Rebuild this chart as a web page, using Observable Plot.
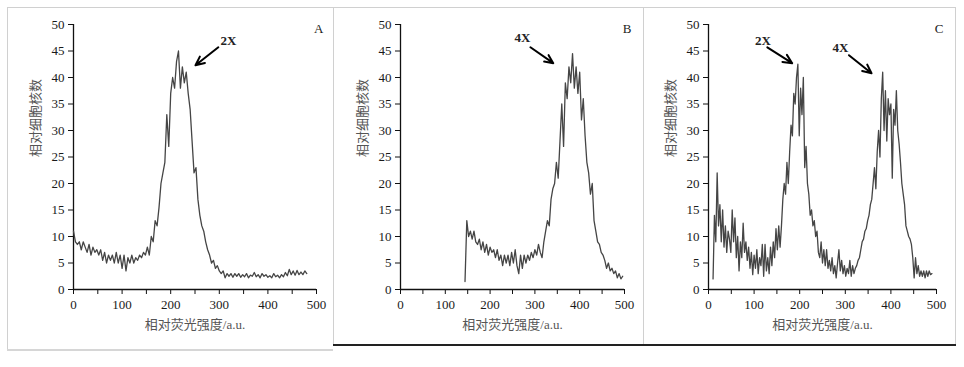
<!DOCTYPE html>
<html><head><meta charset="utf-8">
<script src="https://cdn.jsdelivr.net/npm/d3@7"></script>
<script src="https://cdn.jsdelivr.net/npm/@observablehq/plot@0.6"></script>
<style>
body{margin:0;background:#fff;width:964px;height:367px;position:relative;overflow:hidden}
.panel{position:absolute;top:0}
.ln{position:absolute}
</style></head><body>
<div class="ln" style="left:7px;top:7px;width:949px;height:1px;background:#d0d0d0"></div>
<div class="ln" style="left:7px;top:7px;width:1px;height:343px;background:#d0d0d0"></div>
<div class="ln" style="left:333px;top:7px;width:1px;height:338px;background:#d0d0d0"></div>
<div class="ln" style="left:643px;top:7px;width:1px;height:338px;background:#d0d0d0"></div>
<div class="ln" style="left:955px;top:7px;width:1px;height:338px;background:#d0d0d0"></div>
<div class="ln" style="left:7px;top:349px;width:326px;height:2px;background:#d6d6d6"></div>
<div class="ln" style="left:333px;top:344px;width:623px;height:2px;background:#222"></div>
<div id="pA" class="panel" style="left:0px"></div>
<div id="pB" class="panel" style="left:333px"></div>
<div id="pC" class="panel" style="left:643px"></div>
<script>
// ---- data ----
const xTicks = [0,100,200,300,400,500];
const xMinorTicks = [50,150,250,350,450];
const yTicks = [0,5,10,15,20,25,30,35,40,45,50];
const yLabel = "相对细胞核数";
const xLabel = "相对荧光强度/a.u.";

const xA = [0,4,8,12,16,20,24,28,32,36,40,44,48,52,56,60,64,68,72,76,80,84,88,92,96,100,104,108,112,116,120,124,128,132,136,140,144,148,152,156,160,164,168,172,176,180,184,188,192,196,200,204,208,212,216,220,224,228,232,236,240,244,248,252,256,260,264,268,272,276,280,284,288,292,296,300,304,308,312,316,320,324,328,332,336,340,344,348,352,356,360,364,368,372,376,380,384,388,392,396,400,404,408,412,416,420,424,428,432,436,440,444,448,452,456,460,464,468,472,476,480];
const yA = [11,9,8.5,9,7.5,9,8,7,8.5,6.5,
 8,7,7.5,6.5,7.5,5.5,7,5,6.5,5.5,
 6.5,5,7,5,6.5,4,6.5,3.5,6,5,
 6.5,5,6,5.5,6.5,6,7,6.5,8,6.5,
 10,9,13,12,15.5,20,22,24,33,27,
 37,40,38,43,45,38,42,39,41,37,
 34,28,22,23,17,14,12,11,9,7.5,
 6.5,5,5.5,4,4.5,3.5,3,3.5,2.2,3,
 2.5,3,2.3,3,2.5,3,2.3,2.8,2.4,3,
 2.2,2.7,2.5,3.2,2.4,2.8,2.2,3,2.5,2.8,
 2.3,2.6,2.2,3,2.4,2.7,2.2,2.8,2.4,3.2,
 2.6,3.8,2.8,3.5,2.7,3.6,2.8,3.3,2.8,3.5,
 3];

const xB = [144,148,152,156,160,164,168,172,176,180,184,188,192,196,200,204,208,212,216,220,224,228,232,236,240,244,248,252,256,260,264,268,272,276,280,284,288,292,296,300,304,308,312,316,320,324,328,332,336,340,344,348,352,356,360,364,368,372,376,380,384,388,392,396,400,404,408,412,416,420,424,428,432,436,440,444,448,452,456,460,464,468,472,476,480,484,488,492,496];
const yB = [1.5,13,10,11,9.5,11,9,8.5,9.5,7.5,
 9,7,8.5,6.5,8,7,7.5,6,7.5,5.5,
 6.5,4.5,6.5,5,6.5,4.5,7,5,7.5,4.5,
 3,6.5,4,6.5,5,6.5,5.5,7,6,7.5,
 6.5,8.5,7,6,9,11,13,12,17,19,
 20,24,21,28,35,27,39,36,42,39,
 44.5,38,42,37,41,32,36,29,24,22,
 18,20,13,11,9,8.5,7,6.5,5.5,4,
 5,3.5,4,3,3.5,2.2,3,2,2.5];

const xC = [10,13,16,19,22,25,28,31,34,37,40,43,46,49,52,55,58,61,64,67,70,73,76,79,82,85,88,91,94,97,100,103,106,109,112,115,118,121,124,127,130,133,136,139,142,145,148,151,154,157,160,163,166,169,172,175,178,181,184,187,190,193,196,199,202,205,208,211,214,217,220,223,226,229,232,235,238,241,244,247,250,253,256,259,262,265,268,271,274,277,280,283,286,289,292,295,298,301,304,307,310,313,316,319,322,325,328,331,334,337,340,343,346,349,352,355,358,361,364,367,370,373,376,379,382,385,388,391,394,397,400,403,406,409,412,415,418,421,424,427,430,433,436,439,442,445,448,451,454,457,460,463,466,469,472,475,478,481,484,487,490];
const yC = [2,14,9,22,12,16,9,15,8,12,
 7,11,9.5,7,15,9,13.5,6,10,3.5,
 9,6,12.5,7,9,5.5,8,4,7,2.8,
 6.5,4,7.5,3,6,4.5,8.5,2.5,8.5,3.5,
 6,3,8,4.5,9,6,11.5,7.5,12,8,
 12,17,20,18,24,20,26,31,29,37,
 35,40,42.5,29,38,33,40,23,27,20,
 18,14,15,12,13,10,11,7,6,9,
 5,7.5,4.5,7.5,4,5.5,3.5,6,3,4.5,
 2.2,5,7.5,3.5,5.5,3,4.5,2.5,4,3,
 5.5,2.5,4.5,3,4,4.5,5.5,6,7.5,9,
 9.5,11,11.5,13,14,16,17,20,23,19,
 26,30,25,36,41,30,37.5,28,36,33,
 35,21,34,31,37.5,30,27.5,24,20,18,
 16,12,11,10,9.5,8.5,6,2.2,6,3,
 4.5,2.5,3.5,2.5,3.5,2.2,3.5,2.5,3.5,2.8,
 3];

// annotations (data units)
const noteA = ["2X"], noteAX = [319], noteAY = [47];
const arrA_x1 = [298], arrA_y1 = [45.7], arrA_x2 = [251], arrA_y2 = [42.3];
const noteB = ["4X"], noteBX = [272], noteBY = [47.4];
const arrB_x1 = [290], arrB_y1 = [45.7], arrB_x2 = [341], arrB_y2 = [42.7];
const noteC = ["2X","4X"], noteCX = [119.5,289.5], noteCY = [46.9,45.6];
const arrC_x1 = [129,308], arrC_y1 = [45.7,44.2], arrC_x2 = [183.5,357.5], arrC_y2 = [42.7,40.8];
const panelLetters = ["A","B","C"];

// ---- drawing ----
const serif = "'Liberation Serif','Times New Roman',serif";
const cjk = "'Liberation Serif','Noto Sans CJK SC',serif";

function panel(el, width, mL, mR, xs, ys, letter, notes, nx, ny, ax1, ay1, ax2, ay2) {
  const chart = Plot.plot({
    width, height: 367,
    marginLeft: mL, marginRight: mR, marginTop: 24, marginBottom: 78,
    x: {domain: [0, 500]},
    y: {domain: [0, 50]},
    style: {fontFamily: serif, fontSize: "13px", color: "#1a1a1a", background: "none", overflow: "visible"},
    marks: [
      Plot.axisY({ticks: yTicks, tickSize: 5, tickPadding: 4, label: null, stroke: "#111"}),
      Plot.axisX({ticks: xTicks, tickSize: 5, tickPadding: 5, label: null, stroke: "#111"}),
      Plot.axisX({ticks: xMinorTicks, tickSize: 5, tickFormat: () => "", label: null, stroke: "#111"}),
      Plot.ruleX([0], {stroke: "#111", strokeWidth: 1.3}),
      Plot.ruleY([0], {stroke: "#111", strokeWidth: 1.3}),
      Plot.line(xs, {x: xs, y: ys, stroke: "#454545", strokeWidth: 1.3}),
      Plot.text([yLabel], {text: d => d, frameAnchor: "left", rotate: -90, dx: -38, fill: "#555", fontFamily: cjk, fontSize: 13}),
      Plot.text([xLabel], {text: d => d, frameAnchor: "bottom", dy: 39, fill: "#555", fontFamily: cjk, fontSize: 13}),
      Plot.text([letter], {text: d => d, frameAnchor: "top-right", dx: 7, dy: -1, fill: "#222", fontSize: 13}),
      Plot.text(notes, {x: nx, y: ny, text: notes, fontWeight: "bold", fontSize: 13, fill: "#222"}),
      Plot.arrow(ax1, {x1: ax1, y1: ay1, x2: ax2, y2: ay2, stroke: "#000", strokeWidth: 2, headLength: 9, headAngle: 50})
    ]
  });
  document.getElementById(el).appendChild(chart);
}

panel("pA", 333, 73, 17, xA, yA, panelLetters[0], noteA, noteAX, noteAY, arrA_x1, arrA_y1, arrA_x2, arrA_y2);
panel("pB", 310, 67, 19, xB, yB, panelLetters[1], noteB, noteBX, noteBY, arrB_x1, arrB_y1, arrB_x2, arrB_y2);
panel("pC", 321, 65, 28, xC, yC, panelLetters[2], noteC, noteCX, noteCY, arrC_x1, arrC_y1, arrC_x2, arrC_y2);
</script>
</body></html>
